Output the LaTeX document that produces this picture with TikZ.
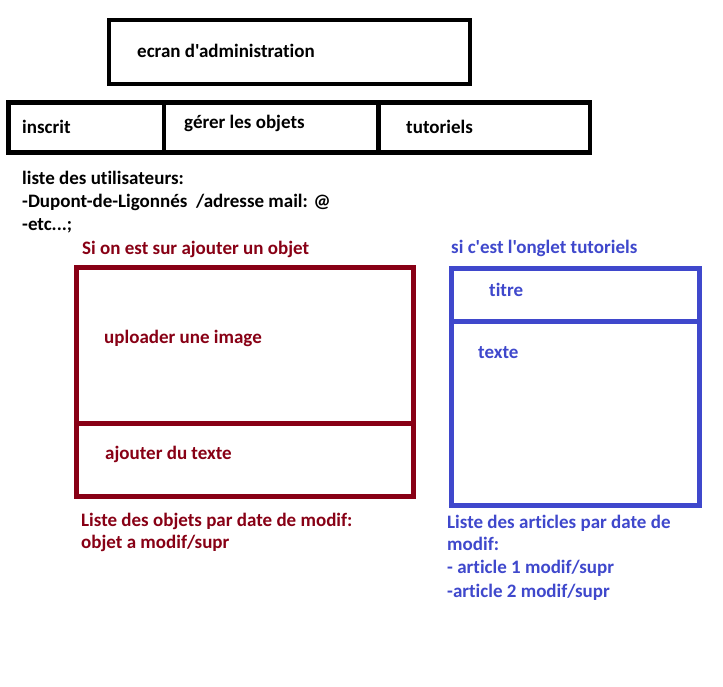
\documentclass[tikz,border=0pt]{standalone}
\usepackage{fontspec}
\setmainfont[Ligatures={TeXOff,NoCommon}]{Carlito}
\usepackage{tikz}

\definecolor{paintred}{RGB}{136,0,21}
\definecolor{paintblue}{RGB}{63,72,204}

\begin{document}
\begin{tikzpicture}[x=1pt, y=-1pt,
  every node/.style={font=\bfseries\fontsize{19}{23}\selectfont, anchor=base west, inner sep=0pt},
  frame/.style={line width=4.5pt}]

  \useasboundingbox[fill=white] (0,0) rectangle (723,686);

  % Title box
  \draw[frame] (109,20) rectangle (470,84);
  \node (title) at (137,57) {ecran d'administration};

  % Tab bar with three tabs
  \draw[frame] (8.5,102.5) rectangle (590,152.5);
  \draw[frame] (164,102.5) -- (164,152.5);
  \draw[frame] (378.5,102.5) -- (378.5,152.5);
  \node (inscrit) at (22,133) {inscrit};
  \node (objets) at (184,128) {gérer les objets};
  \node (tutos) at (406,133) {tutoriels};

  % User list
  \node (users) at (22,184) {liste des utilisateurs:};
  \node (dupont) at (22,207) {-Dupont-de-Ligonnés\ \ /adresse mail: @};
  \node (etc) at (22,230) {-etc...;};

  % Add object panel (dark red)
  \node[text=paintred] (addhead) at (82,254) {Si on est sur ajouter un objet};
  \draw[frame, line width=5pt, paintred] (76,267) rectangle (413,496.5);
  \draw[frame, line width=5pt, paintred] (76,423) -- (413,423);
  \node[text=paintred] (upload) at (104,343) {uploader une image};
  \node[text=paintred] (addtext) at (105,459) {ajouter du texte};
  \node[text=paintred] (objlist) at (81,526) {Liste des objets par date de modif:};
  \node[text=paintred] (objitem) at (81,548) {objet a modif/supr};

  % Tutorial panel (blue)
  \node[text=paintblue] (tutohead) at (451,253) {si c'est l'onglet tutoriels};
  \draw[frame, line width=5pt, paintblue] (451.5,268) rectangle (699,505.5);
  \draw[frame, line width=5pt, paintblue] (451.5,321) -- (699,321);
  \node[text=paintblue] (titre) at (489,296) {titre};
  \node[text=paintblue] (texte) at (478,358) {texte};
  \node[text=paintblue] (artlist) at (447,528) {Liste des articles par date de};
  \node[text=paintblue] (artmodif) at (447,550) {modif:};
  \node[text=paintblue] (art1) at (447,573) {- article 1 modif/supr};
  \node[text=paintblue] (art2) at (447,597) {-article 2 modif/supr};

\end{tikzpicture}
\end{document}
